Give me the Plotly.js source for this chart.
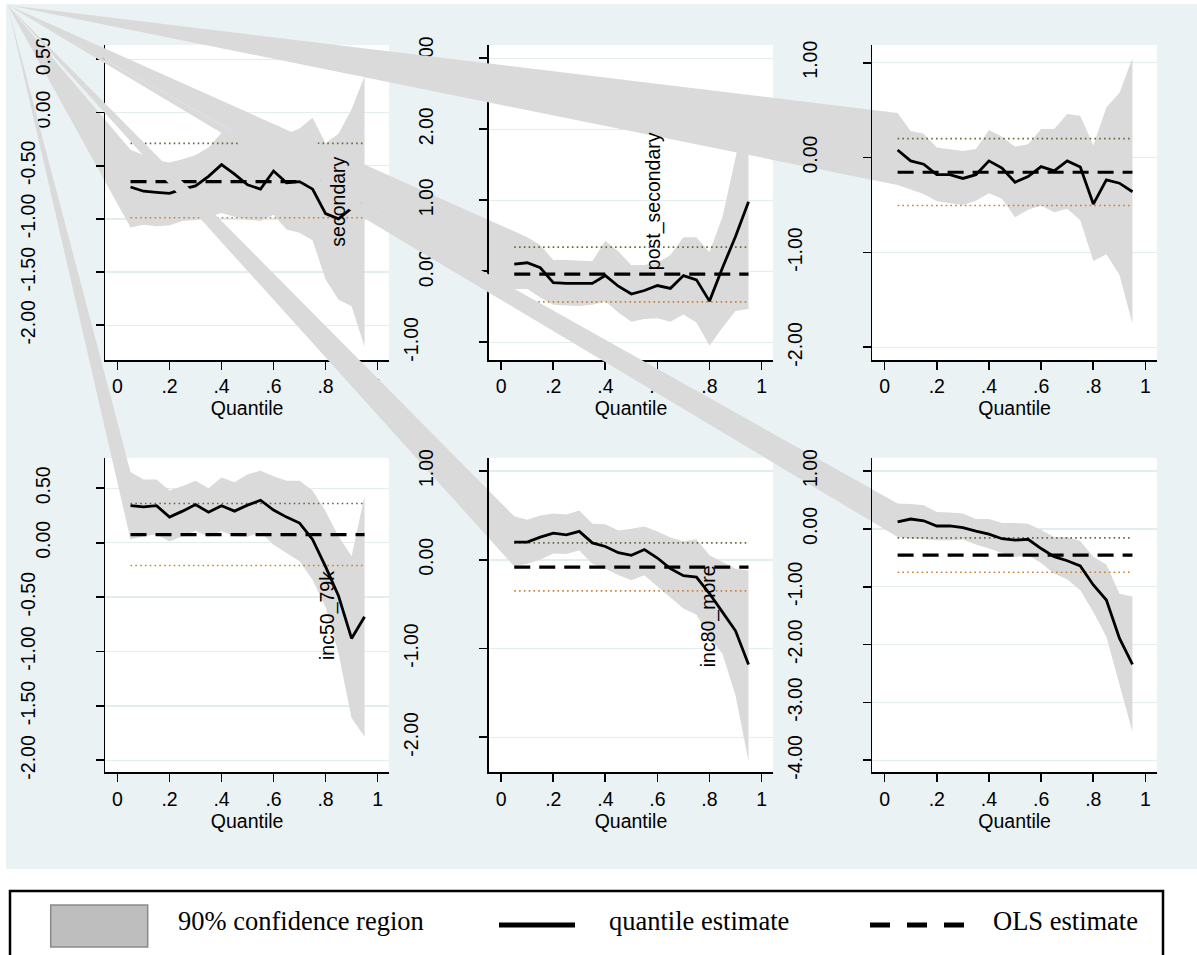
<!DOCTYPE html>
<html><head><meta charset="utf-8">
<script src="https://cdn.plot.ly/plotly-3.0.1.min.js"></script>
<style>html,body{margin:0;padding:0;background:#fff;}</style>
</head><body>
<div id="chart" style="width:1197px;height:955px;"></div>
<script>
// ---------------- DATA ----------------
const quantiles = [0.05,0.10,0.15,0.20,0.25,0.30,0.35,0.40,0.45,0.50,0.55,0.60,0.65,0.70,0.75,0.80,0.85,0.90,0.95];
const xTickVals = [0,0.2,0.4,0.6,0.8,1];
const xTickText = ['0','.2','.4','.6','.8','1'];
const xTitle = 'Quantile';
const varLabels = ['secondary','post_secondary','','inc50_79k','inc80_more',''];

// panel 1: secondary
const est1 = [-0.70,-0.74,-0.75,-0.76,-0.72,-0.69,-0.60,-0.49,-0.58,-0.68,-0.72,-0.55,-0.66,-0.65,-0.72,-0.95,-1.00,-0.90,-0.84];
const up1  = [-0.35,-0.40,-0.45,-0.47,-0.44,-0.40,-0.33,-0.19,-0.17,-0.17,-0.26,-0.18,-0.20,-0.15,-0.05,-0.29,-0.20,0.03,0.34];
const lo1  = [-1.08,-1.055,-1.07,-1.06,-1.02,-1.01,-0.98,-0.945,-0.98,-1.005,-1.02,-0.96,-1.10,-1.13,-1.20,-1.57,-1.76,-1.82,-2.20];
// panel 2: post_secondary
const est2 = [0.10,0.12,0.05,-0.16,-0.17,-0.17,-0.17,-0.06,-0.21,-0.32,-0.27,-0.20,-0.24,-0.06,-0.12,-0.42,0.05,0.49,0.98];
const up2  = [0.56,0.48,0.37,0.16,0.16,0.15,0.14,0.43,0.28,0.085,0.09,0.12,0.23,0.48,0.48,0.27,0.77,1.60,2.52];
const lo2  = [-0.25,-0.25,-0.37,-0.47,-0.48,-0.49,-0.47,-0.42,-0.58,-0.71,-0.67,-0.66,-0.71,-0.61,-0.72,-1.05,-0.79,-0.56,-0.53];
// panel 3
const est3 = [0.08,-0.035,-0.07,-0.18,-0.18,-0.22,-0.18,-0.035,-0.11,-0.26,-0.20,-0.095,-0.14,-0.035,-0.10,-0.49,-0.235,-0.27,-0.36];
const up3  = [0.47,0.28,0.25,0.105,0.09,0.07,0.09,0.29,0.22,0.115,0.14,0.30,0.30,0.46,0.44,0.126,0.53,0.68,1.05];
const lo3  = [-0.29,-0.34,-0.385,-0.46,-0.48,-0.50,-0.455,-0.375,-0.435,-0.63,-0.55,-0.505,-0.575,-0.54,-0.66,-1.09,-1.02,-1.235,-1.75];
// panel 4: inc50_79k
const est4 = [0.34,0.33,0.34,0.235,0.29,0.35,0.28,0.34,0.29,0.345,0.39,0.30,0.235,0.18,0.03,-0.22,-0.49,-0.88,-0.68];
const up4  = [0.65,0.58,0.58,0.48,0.52,0.57,0.50,0.60,0.555,0.63,0.66,0.61,0.57,0.57,0.48,0.29,0.06,-0.125,0.43];
const lo4  = [0.03,0.06,0.075,0.01,0.06,0.11,0.055,0.105,0.06,0.055,0.095,-0.02,-0.095,-0.17,-0.34,-0.59,-1.015,-1.61,-1.78];
// panel 5: inc80_more
const est5 = [0.20,0.20,0.255,0.30,0.28,0.32,0.19,0.15,0.08,0.05,0.115,0.02,-0.10,-0.18,-0.195,-0.38,-0.59,-0.80,-1.18];
const up5  = [0.49,0.45,0.50,0.52,0.51,0.555,0.405,0.40,0.33,0.35,0.375,0.32,0.25,0.21,0.23,0.05,-0.025,-0.10,-0.12];
const lo5  = [-0.075,-0.045,0.0,0.07,0.065,0.105,-0.045,-0.10,-0.17,-0.23,-0.175,-0.30,-0.42,-0.55,-0.62,-0.87,-1.06,-1.53,-2.27];
// panel 6
const est6 = [0.12,0.17,0.14,0.05,0.05,0.02,-0.04,-0.09,-0.17,-0.195,-0.18,-0.34,-0.48,-0.55,-0.64,-0.97,-1.23,-1.89,-2.34];
const up6  = [0.44,0.43,0.41,0.29,0.285,0.265,0.17,0.17,0.10,0.10,0.09,-0.02,-0.14,-0.14,-0.21,-0.48,-0.615,-1.12,-1.17];
const lo6  = [-0.14,-0.17,-0.18,-0.195,-0.195,-0.185,-0.27,-0.34,-0.41,-0.49,-0.455,-0.59,-0.77,-0.875,-1.06,-1.435,-1.865,-2.67,-3.51];

// OLS estimate and its confidence bounds per panel
const olsEst = [-0.65,-0.04,-0.155,0.074,-0.083,-0.455];
const olsUp  = [-0.29,0.34,0.20,0.36,0.19,-0.155];
const olsLo  = [-0.99,-0.43,-0.505,-0.21,-0.35,-0.75];

const yTickVals = [[-2,-1.5,-1,-0.5,0,0.5],[-1,0,1,2,3],[-2,-1,0,1],[-2,-1.5,-1,-0.5,0,0.5],[-2,-1,0,1],[-4,-3,-2,-1,0,1]];

const legendLabels = ['90% confidence region','quantile estimate','OLS estimate'];

// ---------------- LAYOUT CONSTANTS ----------------
const W = 1197, H = 955;
const colPx = [[105.3,389],[489,773],[872.3,1157]];
const rowPx = [[45,360],[457.7,772.3]];
const xRange = [-0.047,1.044];
const yRanges = [[-2.326,0.634],[-1.249,3.187],[-2.133,1.186],[-2.110,0.781],[-2.394,1.150],[-4.207,1.230]];
const labelPos = [[0.847,-0.84],[0.586,0.985],null,[0.807,-0.67],[0.797,-0.64],null];
const cornerPx = [7.5,5];

const AXFONT = 'Liberation Sans, Arial, sans-serif';
const LGFONT = 'Liberation Serif, Times New Roman, serif';
const TICKFONT = {family:AXFONT,size:19.5,color:'#000'};
const estArr = [est1,est2,est3,est4,est5,est6];
const upArr = [up1,up2,up3,up4,up5,up6];
const loArr = [lo1,lo2,lo3,lo4,lo5,lo6];

function ext(r, d){ const s=(r[1]-r[0])/(d[1]-d[0]); return [r[0]-d[0]*s, r[0]+(1-d[0])*s]; }
const py = v => 1 - v/H, px = v => v/W;

const layout = {
  width: W, height: H, margin:{l:0,r:0,t:0,b:0}, autosize:false,
  paper_bgcolor:'#ffffff', plot_bgcolor:'rgba(0,0,0,0)',
  showlegend:false, shapes:[], annotations:[]
};
// blue graph region
layout.shapes.push({type:'rect', xref:'paper', yref:'paper', layer:'below',
  x0:px(6), x1:1.01, y0:py(869), y1:py(4), fillcolor:'#eaf2f3', line:{width:0}});

const gridTraces = [];
const panelTraces = [];
for(let i=0;i<6;i++){
  const col=i%3, row=Math.floor(i/3);
  const dx=[px(colPx[col][0]), px(colPx[col][1])];
  const dy=[py(rowPx[row][1]), py(rowPx[row][0])];
  const gs = i===0?'':String(i+1);   // grid subplot (drawn first)
  const ds = String(7+2*i);          // full-figure data subplot
  const ls = String(8+2*i);          // axis lines, ticks and labels subplot
  const os = String(19+i);           // overlay y axis for negative labels
  const tv = yTickVals[i];
  const neg = tv.filter(v=>v<0);

  // white plot region
  layout.shapes.push({type:'rect', xref:'paper', yref:'paper', layer:'below',
    x0:dx[0], x1:dx[1], y0:dy[0], y1:dy[1], fillcolor:'#ffffff', line:{width:0}});

  // grid-only axes
  layout['xaxis'+gs] = {domain:dx, range:xRange, anchor:'y'+gs, showticklabels:false, ticks:'',
    showline:false, showgrid:false, zeroline:false, fixedrange:true};
  layout['yaxis'+gs] = {domain:dy, range:yRanges[i], anchor:'x'+gs, tickvals:tv, showticklabels:false, ticks:'',
    showline:false, showgrid:true, gridcolor:'#e3ecef', gridwidth:1.5, zeroline:false, fixedrange:true};
  gridTraces.push({x:[], y:[], xaxis:'x'+gs, yaxis:'y'+gs, mode:'lines', hoverinfo:'skip'});

  // full-figure data axes aligned with the panel axes
  const xr = ext(xRange, dx), yr = ext(yRanges[i], dy);
  layout['xaxis'+ds] = {domain:[0,1], range:xr, anchor:'y'+ds, visible:false, fixedrange:true};
  layout['yaxis'+ds] = {domain:[0,1], range:yr, anchor:'x'+ds, visible:false, fixedrange:true};
  const cx = xr[0] + px(cornerPx[0])*(xr[1]-xr[0]);
  const cy = yr[0] + py(cornerPx[1])*(yr[1]-yr[0]);
  const xa='x'+ds, ya='y'+ds;
  const qRev = quantiles.slice().reverse();
  const qEnds=[quantiles[0], quantiles[quantiles.length-1]];
  panelTraces.push({x:[cx].concat(quantiles, qRev, [cx]), y:[cy].concat(upArr[i], loArr[i].slice().reverse(), [cy]),
    xaxis:xa, yaxis:ya, mode:'lines', fill:'toself', fillcolor:'#dadada', line:{width:0,color:'#dadada'}, hoverinfo:'skip'});
  panelTraces.push({x:qEnds, y:[olsUp[i],olsUp[i]], xaxis:xa, yaxis:ya, mode:'lines',
    line:{color:'rgb(95,110,60)', width:1.6, dash:'1.6px,3.2px'}, hoverinfo:'skip'});
  panelTraces.push({x:qEnds, y:[olsLo[i],olsLo[i]], xaxis:xa, yaxis:ya, mode:'lines',
    line:{color:'rgb(205,130,50)', width:1.6, dash:'1.6px,3.2px'}, hoverinfo:'skip'});
  panelTraces.push({x:qEnds, y:[olsEst[i],olsEst[i]], xaxis:xa, yaxis:ya, mode:'lines',
    line:{color:'#000', width:3.2, dash:'16px,9px'}, hoverinfo:'skip'});
  panelTraces.push({x:quantiles, y:estArr[i], xaxis:xa, yaxis:ya, mode:'lines',
    line:{color:'#000', width:2.8}, hoverinfo:'skip'});

  // axis lines, ticks and tick labels (drawn after this panel's data)
  layout['xaxis'+ls] = {domain:dx, range:xRange, anchor:'y'+ls, tickvals:xTickVals, ticktext:xTickText,
    ticks:'outside', ticklen:8, tickwidth:1.8, tickcolor:'#000', showline:true, linewidth:1.8, linecolor:'#000',
    showgrid:false, zeroline:false, ticklabelstandoff:0, tickfont:TICKFONT, fixedrange:true,
    title:{text:xTitle, font:TICKFONT, standoff:0}};
  layout['yaxis'+ls] = {domain:dy, range:yRanges[i], anchor:'x'+ls, tickvals:tv,
    ticktext:tv.map(v=> v>=0 ? v.toFixed(2) : ''), tickangle:-90,
    ticks:'outside', ticklen:8, tickwidth:1.8, tickcolor:'#000', showline:true, linewidth:1.8, linecolor:'#000',
    showgrid:false, zeroline:false, ticklabelstandoff:38, tickfont:TICKFONT, fixedrange:true};
  layout['yaxis'+os] = {overlaying:'y'+ls, side:'left', anchor:'x'+ls, range:yRanges[i], tickvals:neg,
    ticktext:neg.map(v=>v.toFixed(2)), tickangle:-90, ticks:'outside', ticklen:8, tickcolor:'rgba(0,0,0,0)',
    showline:false, showgrid:false, zeroline:false, ticklabelstandoff:54, tickfont:TICKFONT, fixedrange:true};
  panelTraces.push({x:[], y:[], xaxis:'x'+ls, yaxis:'y'+ls, mode:'lines', hoverinfo:'skip'});
  panelTraces.push({x:[], y:[], xaxis:'x'+ls, yaxis:'y'+os, mode:'lines', hoverinfo:'skip'});

  // variable label
  if(labelPos[i] && varLabels[i]){
    layout.annotations.push({xref:'x'+ls, yref:'y'+ls, x:labelPos[i][0], y:labelPos[i][1], text:varLabels[i],
      showarrow:false, textangle:-90, xanchor:'center', yanchor:'middle', font:TICKFONT});
  }
}

// ---------------- LEGEND (box below the graph) ----------------
layout.shapes.push({type:'rect', xref:'paper', yref:'paper', x0:px(10), x1:px(1163), y0:py(1010), y1:py(891),
  fillcolor:'rgba(0,0,0,0)', line:{color:'#000', width:2.5}});
layout.shapes.push({type:'rect', xref:'paper', yref:'paper', x0:px(50.7), x1:px(147.7), y0:py(947), y1:py(905),
  fillcolor:'#bebebe', line:{color:'#8a8a8a', width:1.5}});
layout.shapes.push({type:'line', xref:'paper', yref:'paper', x0:px(499), x1:px(575), y0:py(925), y1:py(925),
  line:{color:'#000', width:5}});
layout.shapes.push({type:'line', xref:'paper', yref:'paper', x0:px(870), x1:px(965), y0:py(925), y1:py(925),
  line:{color:'#000', width:5, dash:'20px,17px'}});
const legX = [175.7, 607.3, 991];
legendLabels.forEach((t,k)=>{
  layout.annotations.push({xref:'paper', yref:'paper', x:px(legX[k]), y:py(921), text:t, showarrow:false,
    xanchor:'left', yanchor:'middle', font:{family:LGFONT, size:26.5, color:'#000'}});
});

Plotly.newPlot('chart', gridTraces.concat(panelTraces), layout, {staticPlot:true, displayModeBar:false});
</script>
</body></html>
